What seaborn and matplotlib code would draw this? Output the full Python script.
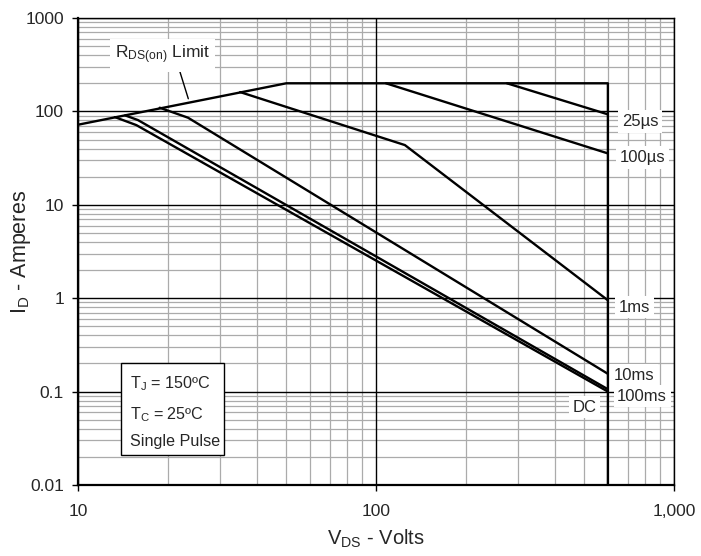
import matplotlib
matplotlib.use("Agg")
import matplotlib.pyplot as plt
import matplotlib.ticker as mticker
from matplotlib.patches import Rectangle
import seaborn as sns
import pandas as pd

# ---- data ----
rds_v = [10, 50, 600, 600]
rds_i = [72, 200, 200, 0.01]
us25_v = [275, 600]
us25_i = [200, 93]
us100_v = [108, 600]
us100_i = [200, 35.5]
ms1_v = [35, 125, 600]
ms1_i = [161, 43.6, 0.95]
ms10_v = [18.8, 23.4, 600]
ms10_i = [109.5, 85.6, 0.155]
ms100_v = [14.4, 15.9, 600]
ms100_i = [90.6, 80.7, 0.106]
dc_v = [13.3, 15.7, 600]
dc_i = [86.9, 71.3, 0.1]

series_names = ["RDS", "25us", "100us", "1ms", "10ms", "100ms", "DC"]
series_v = [rds_v, us25_v, us100_v, ms1_v, ms10_v, ms100_v, dc_v]
series_i = [rds_i, us25_i, us100_i, ms1_i, ms10_i, ms100_i, dc_i]

x_ticks = [10, 100, 1000]
x_ticklabels = ["10", "100", "1,000"]
y_ticks = [0.01, 0.1, 1, 10, 100, 1000]
y_ticklabels = ["0.01", "0.1", "1", "10", "100", "1000"]

curve_labels = ["25µs", "100µs", "1ms", "10ms", "100ms", "DC"]
curve_label_x = [769, 782, 735, 735, 782, 502]
curve_label_y = [78, 32.2, 0.80, 0.150, 0.0893, 0.068]

sns.set_style("white")
plt.rcParams['font.family'] = ['Liberation Sans', 'DejaVu Sans']
plt.rcParams['mathtext.fontset'] = 'custom'
plt.rcParams['mathtext.rm'] = 'Liberation Sans'
plt.rcParams['mathtext.it'] = 'Liberation Sans:italic'
plt.rcParams['mathtext.bf'] = 'Liberation Sans:bold'

fig = plt.figure(figsize=(7.01, 5.56), dpi=100)
ax = fig.add_axes([78 / 701, 1 - 485 / 556, 596 / 701, 467 / 556])

ax.set_xscale("log")
ax.set_yscale("log")
ax.set_xlim(10, 1000)
ax.set_ylim(0.01, 1000)

# grid: minor gray via axis grid, major black drawn above it
ax.set_axisbelow(True)
ax.xaxis.set_minor_locator(mticker.LogLocator(base=10, subs=range(2, 10)))
ax.yaxis.set_minor_locator(mticker.LogLocator(base=10, subs=range(2, 10)))
ax.grid(which="minor", color="#ababab", lw=0.9)
ax.grid(which="major", visible=False)
for xt in x_ticks:
    ax.axvline(xt, color="black", lw=1.0, zorder=1)
for yt in y_ticks:
    ax.axhline(yt, color="black", lw=1.0, zorder=1)

for name, v, i in zip(series_names, series_v, series_i):
    df = pd.DataFrame({"V": v, "I": i})
    sns.lineplot(data=df, x="V", y="I", ax=ax, color="black", lw=1.7,
                 sort=False, estimator=None, zorder=3)

ax.xaxis.set_major_locator(mticker.FixedLocator(x_ticks))
ax.set_xticklabels(x_ticklabels)
ax.yaxis.set_major_locator(mticker.FixedLocator(y_ticks))
ax.set_yticklabels(y_ticklabels)
ax.xaxis.set_minor_formatter(mticker.NullFormatter())
ax.yaxis.set_minor_formatter(mticker.NullFormatter())

ax.tick_params(axis="x", which="major", direction="out", length=4, width=1,
               color="black", labelsize=12.5, pad=10, bottom=True, top=False)
ax.tick_params(axis="y", which="major", direction="out", length=4, width=1,
               color="black", labelsize=12.5, pad=6, left=True, right=False)
ax.tick_params(which="minor", length=0)

for s in ax.spines.values():
    s.set_visible(True)
    s.set_color("black")
    s.set_linewidth(1.0)
    s.set_zorder(2.5)
ax.spines["left"].set_linewidth(1.6)
ax.spines["bottom"].set_linewidth(1.6)

ax.set_xlabel(r"$\mathrm{V_{DS}}$ - Volts", fontsize=14.5, labelpad=6)
ax.set_ylabel(r"$\mathrm{I_D}$ - Amperes", fontsize=15.5)
ax.yaxis.set_label_coords(-0.075, 0.5)

# curve labels
for t, x, y in zip(curve_labels, curve_label_x, curve_label_y):
    ax.text(x, y, t, ha="center", va="center", fontsize=12, zorder=4,
            bbox=dict(boxstyle="square,pad=0.22", fc="white", ec="none"))

# RDS(on) limit label with leader line
ax.annotate("", xy=(23.6, 128), xytext=(21.7, 303),
            arrowprops=dict(arrowstyle="-", color="black", lw=1.0), zorder=4)
ax.text(19.2, 400, r"$\mathrm{R_{DS(on)}}$ Limit", ha="center", va="center",
        fontsize=12.5, zorder=4,
        bbox=dict(boxstyle="square,pad=0.3", fc="white", ec="none"))

# conditions box
ax.add_patch(Rectangle((0.0721, 0.0642), 0.245 - 0.0721, 0.2612 - 0.0642,
                       transform=ax.transAxes, fc="white", ec="black",
                       lw=1.0, zorder=4))
ax.text(0.0872, 0.2163, r"$\mathrm{T_J}$ = 150ºC", transform=ax.transAxes,
        ha="left", va="center", fontsize=11.6, zorder=5)
ax.text(0.0872, 0.1499, r"$\mathrm{T_C}$ = 25ºC", transform=ax.transAxes,
        ha="left", va="center", fontsize=11.6, zorder=5)
ax.text(0.0872, 0.0921, "Single Pulse", transform=ax.transAxes,
        ha="left", va="center", fontsize=11.6, zorder=5)

fig.savefig("out.png", dpi=100)
